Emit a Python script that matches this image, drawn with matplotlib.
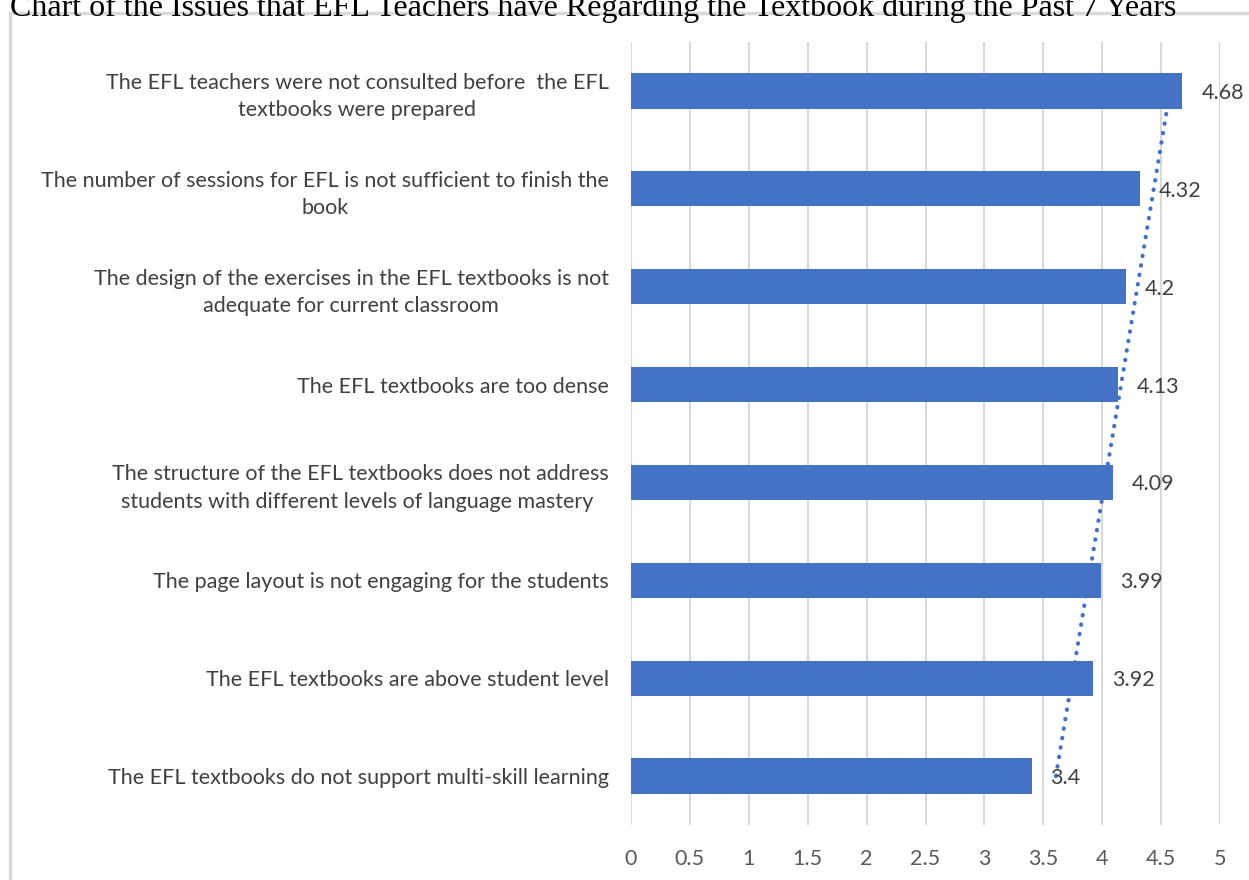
import numpy as np
import matplotlib.pyplot as plt
from matplotlib.patches import Rectangle

# Data (bottom to top, as drawn)
categories = [
    "The EFL textbooks do not support multi-skill learning",
    "The EFL textbooks are above student level",
    "The page layout is not engaging for the students",
    "The structure of the EFL textbooks does not address\nstudents with different levels of language mastery ",
    "The EFL textbooks are too dense",
    "The design of the exercises in the EFL textbooks is not\nadequate for current classroom",
    "The number of sessions for EFL is not sufficient to finish the\nbook",
    "The EFL teachers were not consulted before  the EFL\ntextbooks were prepared",
]
scores = [3.4, 3.92, 3.99, 4.09, 4.13, 4.2, 4.32, 4.68]
value_labels = ["3.4", "3.92", "3.99", "4.09", "4.13", "4.2", "4.32", "4.68"]
xticks = [0, 0.5, 1, 1.5, 2, 2.5, 3, 3.5, 4, 4.5, 5]
xtick_labels = ["0", "0.5", "1", "1.5", "2", "2.5", "3", "3.5", "4", "4.5", "5"]
title = "Chart of the Issues that EFL Teachers have Regarding the Textbook during the Past 7 Years"

bar_color = "#4472C4"
grid_color = "#D9D9D9"
plt.rcParams['font.family'] = ['Lato', 'DejaVu Sans']

fig = plt.figure(figsize=(12.49, 8.8), dpi=100)
ax = fig.add_axes([0.5052, 0.0625, 0.4716, 0.8898])

pos = np.arange(1, len(scores) + 1)
ax.barh(pos, scores, height=0.36, color=bar_color, zorder=3)

# linear trendline over category index
k, b = np.polyfit(pos, scores, 1)
tx = np.array([pos[0], pos[-1]])
ax.plot(k * tx + b, tx, linestyle=(0, (0.1, 2.2)), dash_capstyle='round',
        color=bar_color, lw=3, zorder=2)

for p, v, lab in zip(pos, scores, value_labels):
    ax.annotate(lab, (v, p), xytext=(19, -2), textcoords='offset pixels',
                ha='left', va='center', fontsize=15.5, color='#404040', zorder=4)

ax.set_xlim(0, 5)
ax.set_ylim(0.5, 8.5)
ax.set_xticks(xticks)
ax.set_xticklabels(xtick_labels, fontsize=15.5, color='#595959')
ax.set_yticks(pos)
ax.set_yticklabels(categories, fontsize=15.5, color='#404040',
                   multialignment='center', linespacing=1.45)
ax.tick_params(axis='both', length=0)
ax.tick_params(axis='y', pad=16)
ax.tick_params(axis='x', pad=17)
ax.grid(axis='x', color=grid_color, lw=1.5, zorder=0)
for s in ax.spines.values():
    s.set_visible(False)

# chart border
fig.patches.append(Rectangle((10 / 1249, -0.1), 1.2, 1 - 13 / 880 + 0.1,
                             transform=fig.transFigure, fill=False,
                             edgecolor=grid_color, lw=2.5))

# title sits partly above the top edge, as in the source image
fig.text(0.008, 1 - 16 / 880, title, fontsize=23, family='Liberation Serif',
         color='black', ha='left', va='baseline')

fig.savefig("out.png", dpi=100)
